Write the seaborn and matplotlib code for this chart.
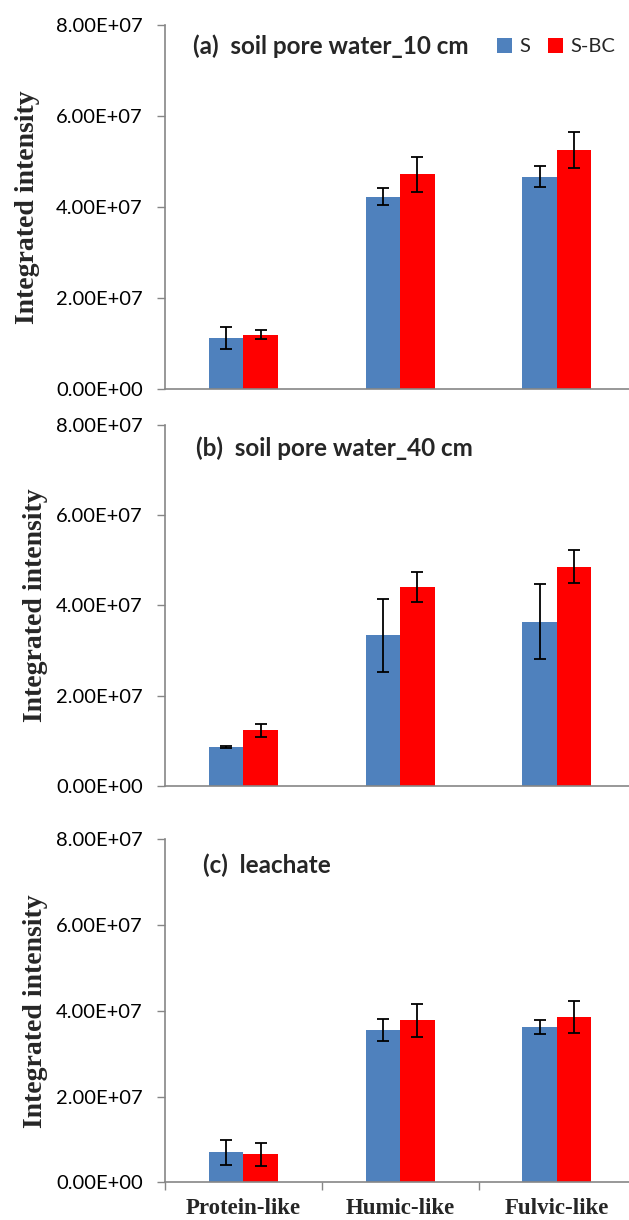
import numpy as np
import pandas as pd
import matplotlib
matplotlib.use("Agg")
import matplotlib.pyplot as plt
from matplotlib.ticker import FuncFormatter
import seaborn as sns

categories = ["Protein-like", "Humic-like", "Fulvic-like"]
groups = ["S", "S-BC"]
panel_titles = ["(a)  soil pore water_10 cm", "(b)  soil pore water_40 cm", "(c)  leachate"]

# values (mean) and error bars per panel
a_S = [1.12e7, 4.23e7, 4.67e7]
a_SBC = [1.19e7, 4.72e7, 5.25e7]
a_S_err = [0.25e7, 0.18e7, 0.24e7]
a_SBC_err = [0.10e7, 0.38e7, 0.40e7]

b_S = [0.86e7, 3.34e7, 3.64e7]
b_SBC = [1.23e7, 4.40e7, 4.86e7]
b_S_err = [0.03e7, 0.81e7, 0.83e7]
b_SBC_err = [0.14e7, 0.33e7, 0.37e7]

c_S = [0.70e7, 3.55e7, 3.63e7]
c_SBC = [0.65e7, 3.78e7, 3.86e7]
c_S_err = [0.29e7, 0.25e7, 0.16e7]
c_SBC_err = [0.27e7, 0.38e7, 0.38e7]

yticks = [0, 2e7, 4e7, 6e7, 8e7]

panels = [
    (a_S, a_SBC, a_S_err, a_SBC_err),
    (b_S, b_SBC, b_S_err, b_SBC_err),
    (c_S, c_SBC, c_S_err, c_SBC_err),
]

BLUE = "#4F81BD"
RED = "#FF0000"
SPINE = "#868686"

sns.set_style("white")
plt.rcParams["font.family"] = ["Lato", "DejaVu Sans"]

W, H = 629, 1220
fig = plt.figure(figsize=(W / 100, H / 100), dpi=100)

# axes pixel boxes: (top_px, bottom_px)
boxes = [(25, 389), (425, 785.7), (839.3, 1182.3)]
left_px = 165
right_px = 629
cat_w = 156.75
xmax = -0.5 + (right_px - left_px) / cat_w

title_pos = [(193, 46.5), (196, 448), (203, 865)]
ylabel_x = [40, 48, 48]

for i, ((S, SBC, Se, SBCe), (tp, bp)) in enumerate(zip(panels, boxes)):
    ax = fig.add_axes([left_px / W, (H - bp) / H, (right_px - left_px) / W, (bp - tp) / H])
    df = pd.DataFrame({
        "category": categories * 2,
        "group": [groups[0]] * 3 + [groups[1]] * 3,
        "value": list(S) + list(SBC),
    })
    sns.barplot(data=df, x="category", y="value", hue="group", order=categories,
                hue_order=groups, palette=[BLUE, RED], width=0.44, errorbar=None,
                saturation=1, linewidth=0, ax=ax, legend=(i == 0))
    for cont, errs in zip(ax.containers, [Se, SBCe]):
        xs = [p.get_x() + p.get_width() / 2 for p in cont.patches]
        hs = [p.get_height() for p in cont.patches]
        ax.errorbar(xs, hs, yerr=errs, fmt="none", ecolor="black",
                    elinewidth=1.3, capsize=4.5, capthick=1.3, zorder=5)
    ax.set_ylim(0, 8e7)
    ax.set_xlim(-0.5, xmax)
    ax.set_yticks(yticks)
    ax.yaxis.set_major_formatter(FuncFormatter(lambda v, p: f"{v:.2E}"))
    ax.tick_params(axis="y", which="major", left=True, length=6, width=1,
                   color=SPINE, pad=10, labelsize=14.5, labelcolor="black")
    for s in ["top", "right"]:
        ax.spines[s].set_visible(False)
    for s in ["left", "bottom"]:
        ax.spines[s].set_color(SPINE)
        ax.spines[s].set_linewidth(1.2)
    ax.set_xlabel("")
    ax.set_ylabel("Integrated intensity", family=["Liberation Serif"],
                  fontweight="bold", fontsize=20)
    ax.yaxis.set_label_coords((ylabel_x[i] - left_px) / (right_px - left_px), 0.5)
    if i == 2:
        ax.set_xticks([0, 1, 2])
        ax.set_xticklabels(categories, family=["Liberation Serif"],
                           fontweight="bold", fontsize=16.5)
        ax.tick_params(axis="x", which="major", length=0, pad=11)
        ax.set_xticks([-0.5, 0.5, 1.5], minor=True)
        ax.tick_params(axis="x", which="minor", bottom=True, length=6,
                       width=1, color=SPINE)
    else:
        ax.set_xticks([0, 1, 2])
        ax.set_xticklabels([])
        ax.tick_params(axis="x", length=0)
    tx, ty = title_pos[i]
    fig.text(tx / W, 1 - ty / H, panel_titles[i], ha="left", va="center",
             fontsize=17.5, fontweight="bold")
    if i == 0:
        h, l = ax.get_legend_handles_labels()
        ax.legend(h, l, loc="center left", bbox_to_anchor=(497 / W, 1 - 46.5 / H),
                  bbox_transform=fig.transFigure, ncol=2, frameon=False,
                  fontsize=14.5, handlelength=0.75, handleheight=0.75,
                  handletextpad=0.35, columnspacing=0.9, borderpad=0,
                  borderaxespad=0)

fig.savefig("out.png", dpi=100)
